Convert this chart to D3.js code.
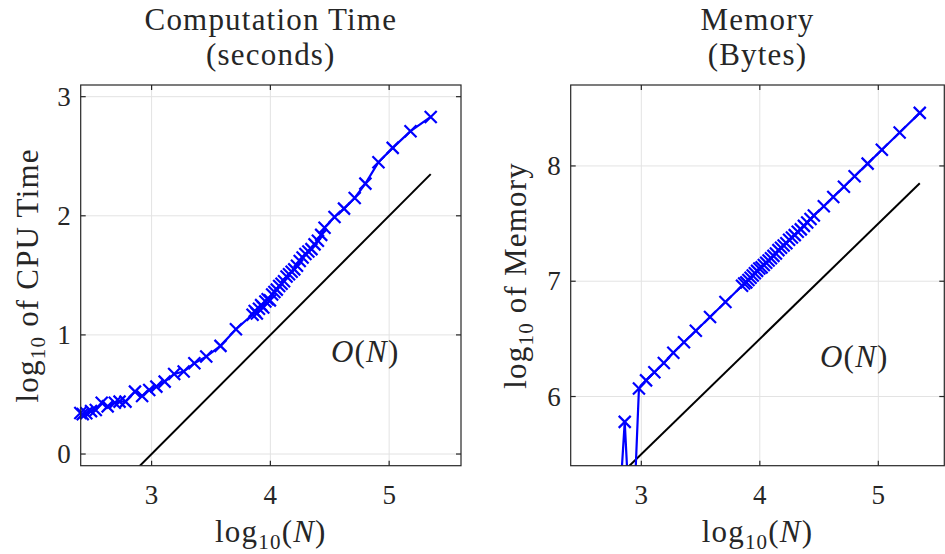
<!DOCTYPE html>
<html>
<head>
<meta charset="utf-8">
<script src="https://cdn.jsdelivr.net/npm/d3@7"></script>
<style>
  body { margin: 0; background: #fff; }
  text { font-family: "Liberation Serif", "DejaVu Serif", serif; fill: #262626; }
</style>
</head>
<body>
<div id="chart"></div>
<script>
// log10 of problem size (shared by both panels)
var logN = [2.40, 2.42, 2.45, 2.49, 2.53, 2.58, 2.63, 2.69, 2.73, 2.78,
    2.86, 2.92, 2.98, 3.04, 3.11, 3.19, 3.27, 3.36, 3.46, 3.58, 3.71,
    3.850, 3.868, 3.886, 3.904, 3.922, 3.940, 3.958, 3.977, 3.996, 4.015,
    4.034, 4.054, 4.074, 4.094, 4.115, 4.136, 4.157, 4.179, 4.201, 4.224,
    4.247, 4.271, 4.295, 4.320, 4.346, 4.372, 4.400, 4.428, 4.456,
    4.54, 4.62, 4.71, 4.80, 4.91, 5.03, 5.18, 5.35];

// log10 of CPU time (seconds)
var cpuTime = [0.345, 0.335, 0.342, 0.36, 0.37, 0.43, 0.40, 0.43, 0.44, 0.44,
    0.524, 0.487, 0.538, 0.566, 0.608, 0.672, 0.692, 0.762, 0.818, 0.908, 1.048,
    1.17, 1.20, 1.18, 1.22, 1.25, 1.23, 1.28, 1.30, 1.29, 1.34,
    1.36, 1.38, 1.41, 1.43, 1.45, 1.49, 1.51, 1.53, 1.55, 1.58,
    1.62, 1.65, 1.68, 1.70, 1.72, 1.76, 1.79, 1.84, 1.90,
    1.99, 2.06, 2.15, 2.27, 2.45, 2.57, 2.71, 2.83];

// log10 of memory (bytes)
var memory = [4.10, 4.15, 4.20, 4.24, 4.28, 4.32, 4.36, 4.40, 4.43, 4.46,
    5.78, 4.56, 6.07, 6.14, 6.21, 6.29, 6.38, 6.47, 6.57, 6.69, 6.82,
    6.96, 6.98, 6.99, 7.01, 7.03, 7.05, 7.07, 7.09, 7.11, 7.12,
    7.14, 7.16, 7.18, 7.20, 7.22, 7.24, 7.27, 7.29, 7.31, 7.33,
    7.36, 7.38, 7.40, 7.43, 7.45, 7.48, 7.51, 7.54, 7.57,
    7.65, 7.73, 7.82, 7.91, 8.02, 8.14, 8.29, 8.46];

// O(N) guide lines
var guideX = [2.8, 5.35];
var guideCpu = [-0.2, 2.35];
var guideMem = [5.3, 7.85];

var xTicks = [3, 4, 5];
var cpuTicks = [0, 1, 2, 3];
var memTicks = [6, 7, 8];

var svg = d3.select("#chart").append("svg")
    .attr("width", 945)
    .attr("height", 554);

var labelSize = 31, subSize = 21, tickSize = 27, spacing = 1.2;

function drawPanel(p) {
    var x = d3.scaleLinear().domain(p.xDomain).range([p.left, p.right]);
    var y = d3.scaleLinear().domain(p.yDomain).range([p.bottom, p.top]);
    var g = svg.append("g");

    g.append("clipPath").attr("id", p.id)
        .append("rect")
        .attr("x", p.left).attr("y", p.top)
        .attr("width", p.right - p.left).attr("height", p.bottom - p.top);

    // grid
    g.selectAll(".gx").data(xTicks).enter().append("line")
        .attr("x1", d => x(d)).attr("x2", d => x(d))
        .attr("y1", p.top).attr("y2", p.bottom)
        .attr("stroke", "#e3e3e3").attr("stroke-width", 1);
    g.selectAll(".gy").data(p.yTicks).enter().append("line")
        .attr("y1", d => y(d)).attr("y2", d => y(d))
        .attr("x1", p.left).attr("x2", p.right)
        .attr("stroke", "#e3e3e3").attr("stroke-width", 1);

    // O(N) guide
    var guide = guideX.map((v, i) => [v, p.guide[i]]);
    g.append("path")
        .attr("clip-path", "url(#" + p.id + ")")
        .attr("d", d3.line().x(d => x(d[0])).y(d => y(d[1]))(guide))
        .attr("fill", "none").attr("stroke", "#000").attr("stroke-width", 2);

    // data line
    var pts = logN.map((v, i) => [v, p.values[i]]);
    g.append("path")
        .attr("clip-path", "url(#" + p.id + ")")
        .attr("d", d3.line().x(d => x(d[0])).y(d => y(d[1]))(pts))
        .attr("fill", "none").attr("stroke", "#0000ff").attr("stroke-width", 2.2);

    // x markers (only those inside the y range)
    var r = 6;
    g.selectAll(".mk").data(pts.filter(d => d[1] >= p.yDomain[0])).enter().append("path")
        .attr("transform", d => "translate(" + x(d[0]) + "," + y(d[1]) + ")")
        .attr("d", "M" + (-r) + "," + (-r) + "L" + r + "," + r + "M" + (-r) + "," + r + "L" + r + "," + (-r))
        .attr("stroke", "#0000ff").attr("stroke-width", 2.2);

    // box
    g.append("rect")
        .attr("x", p.left).attr("y", p.top)
        .attr("width", p.right - p.left).attr("height", p.bottom - p.top)
        .attr("fill", "none").attr("stroke", "#262626").attr("stroke-width", 1.2);

    // ticks (inward, on all sides)
    var tl = 5;
    xTicks.forEach(function (t) {
        g.append("line").attr("x1", x(t)).attr("x2", x(t)).attr("y1", p.bottom).attr("y2", p.bottom - tl)
            .attr("stroke", "#262626").attr("stroke-width", 1.2);
        g.append("line").attr("x1", x(t)).attr("x2", x(t)).attr("y1", p.top).attr("y2", p.top + tl)
            .attr("stroke", "#262626").attr("stroke-width", 1.2);
        g.append("text").attr("x", x(t)).attr("y", p.bottom + 38)
            .attr("text-anchor", "middle").attr("font-size", tickSize).text(t);
    });
    p.yTicks.forEach(function (t) {
        g.append("line").attr("y1", y(t)).attr("y2", y(t)).attr("x1", p.left).attr("x2", p.left + tl)
            .attr("stroke", "#262626").attr("stroke-width", 1.2);
        g.append("line").attr("y1", y(t)).attr("y2", y(t)).attr("x1", p.right).attr("x2", p.right - tl)
            .attr("stroke", "#262626").attr("stroke-width", 1.2);
        g.append("text").attr("x", p.left - 10).attr("y", y(t) + 9)
            .attr("text-anchor", "end").attr("font-size", tickSize).text(t);
    });

    var cx = (p.left + p.right) / 2;
    var cy = (p.top + p.bottom) / 2;

    // titles
    g.append("text").attr("x", cx).attr("y", 30)
        .attr("text-anchor", "middle").attr("font-size", labelSize)
        .attr("letter-spacing", spacing).text(p.title1);
    g.append("text").attr("x", cx).attr("y", 65)
        .attr("text-anchor", "middle").attr("font-size", labelSize)
        .attr("letter-spacing", spacing).text(p.title2);

    // x label: log10(N)
    var xl = g.append("text").attr("x", cx).attr("y", 542)
        .attr("text-anchor", "middle").attr("font-size", labelSize)
        .attr("letter-spacing", spacing);
    xl.append("tspan").text("log");
    xl.append("tspan").attr("font-size", subSize).attr("dy", 7).text("10");
    xl.append("tspan").attr("dy", -7).text("(");
    xl.append("tspan").attr("font-style", "italic").text("N");
    xl.append("tspan").text(")");

    // y label
    var yl = g.append("text")
        .attr("transform", "translate(" + p.ylabelX + "," + cy + ") rotate(-90)")
        .attr("text-anchor", "middle").attr("font-size", labelSize)
        .attr("letter-spacing", spacing);
    yl.append("tspan").text("log");
    yl.append("tspan").attr("font-size", subSize).attr("dy", 7).text("10");
    yl.append("tspan").attr("dy", -7).text(" of " + p.ylabel);

    // O(N) label
    var ol = g.append("text").attr("x", x(p.oPos[0])).attr("y", y(p.oPos[1]))
        .attr("font-size", labelSize).attr("letter-spacing", spacing);
    ol.append("tspan").attr("font-style", "italic").text("O");
    ol.append("tspan").text("(");
    ol.append("tspan").attr("font-style", "italic").text("N");
    ol.append("tspan").text(")");
}

drawPanel({
    id: "clipL", left: 80.7, right: 461, top: 85, bottom: 465.7,
    xDomain: [2.403, 5.605], yDomain: [-0.098, 3.098], yTicks: cpuTicks,
    values: cpuTime, guide: guideCpu,
    title1: "Computation Time", title2: "(seconds)",
    ylabel: "CPU Time", ylabelX: 38,
    oPos: [4.51, 0.77]
});

drawPanel({
    id: "clipR", left: 570.7, right: 944.3, top: 85, bottom: 465.7,
    xDomain: [2.404, 5.557], yDomain: [5.40, 8.702], yTicks: memTicks,
    values: memory, guide: guideMem,
    title1: "Memory", title2: "(Bytes)",
    ylabel: "Memory", ylabelX: 526,
    oPos: [4.508, 6.26]
});
</script>
</body>
</html>
